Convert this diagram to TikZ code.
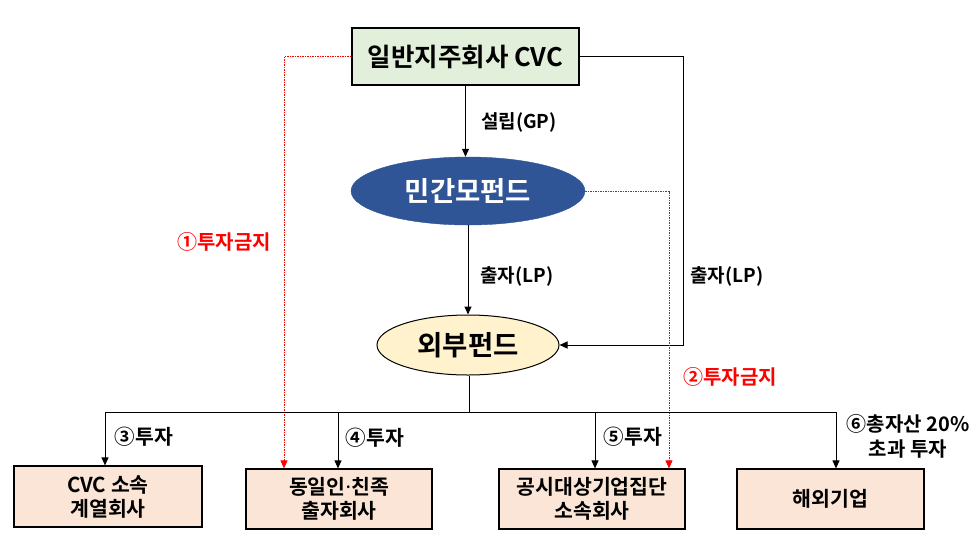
\documentclass[tikz,border=0pt]{standalone}
\usepackage{fontspec}
\setmainfont{Noto Sans CJK KR}[BoldFont={Noto Sans CJK KR Bold}]
\newfontfamily\latinsans{Noto Sans}
\usetikzlibrary{arrows.meta,shapes.geometric}
\definecolor{topgreen}{HTML}{E2EFDA}
\definecolor{fundblue}{HTML}{2F5597}
\definecolor{fundyellow}{HTML}{FFF2CC}
\definecolor{boxpeach}{HTML}{FBE5D6}
\begin{document}
\begin{tikzpicture}[x=1pt,y=-1pt,
  font=\bfseries,
  arr/.style={line width=1pt,-{Triangle[length=8pt,width=7pt]}},
  plain/.style={line width=1pt},
  reddot/.style={red,line width=0.9pt,dash pattern=on 1.5pt off 1pt,-{Triangle[length=8pt,width=7pt]}},
  bottombox/.style={draw,line width=1.2pt,fill=boxpeach,minimum width=186pt,minimum height=60pt,align=center,font=\bfseries\fontsize{20.5}{24}\selectfont,inner sep=0pt},
  lbl/.style={font=\bfseries\fontsize{19}{22}\selectfont,inner sep=0pt,align=center},
  redlbl/.style={font=\bfseries\fontsize{20}{24}\selectfont,text=red,inner sep=0pt},
  invlbl/.style={font=\bfseries\fontsize{20.5}{24}\selectfont,inner sep=0pt,align=center}
]
\useasboundingbox (0,0) rectangle (980,542);
\node[draw,line width=1.2pt,fill=topgreen,minimum width=227pt,minimum height=57pt,inner sep=0pt,font=\bfseries\fontsize{25.5}{30}\selectfont] (top) at (465.5,56.5) {일반지주회사 CVC};
\node[ellipse,fill=fundblue,draw=fundblue,minimum width=234pt,minimum height=68pt,inner sep=0pt,text=white,font=\bfseries\fontsize{27.5}{32}\selectfont] (e1) at (468,191) {민간모펀드};
\node[ellipse,fill=fundyellow,draw=black,line width=1pt,minimum width=182pt,minimum height=60pt,inner sep=0pt,font=\bfseries\fontsize{27.5}{32}\selectfont] (e2) at (468,345) {외부펀드};
\node[bottombox,minimum width=188pt,minimum height=61pt] (b1) at (108,496.5) {CVC 소속\\계열회사};
\node[bottombox] (b2) at (339,499) {동일인{\latinsans\bfseries ·}친족\\출자회사};
\node[bottombox] (b3) at (592,499) {공시대상기업집단\\소속회사};
\node[bottombox,minimum width=187pt] (b4) at (830.5,499) {해외기업};

% labels
\node[lbl] (l1) at (519,122) {설립(GP)};
\node[lbl] (l2) at (517,276) {출자(LP)};
\node[lbl] (l3) at (727,276) {출자(LP)};
\node[redlbl] (r1l) at (224,242) {①투자금지};
\node[redlbl] (r2l) at (730,377) {②투자금지};
\node[invlbl] (t3) at (144,437) {③투자};
\node[invlbl] (t4) at (375,438) {④투자};
\node[invlbl] (t5) at (633,437) {⑤투자};
\node[invlbl,font=\bfseries\fontsize{20}{25}\selectfont] (t6) at (908,436) {⑥총자산 20\%\\초과 투자};

% connectors
\draw[arr] (top.south) -- (top.south |- e1.north);
\draw[arr] (e1.south) -- (e2.north);
\coordinate (rc) at (683,56.5);
\draw[arr] (top.east) -- (rc) |- (e2.east);

\coordinate (rd1) at (284,56.5);
\draw[reddot] (top.west) -- (rd1) -- (rd1 |- b2.north);
\coordinate (rd2) at (669,191);
\draw[reddot] (e1.east) -- (rd2) -- (rd2 |- b3.north);

\coordinate (j) at (469,412);
\coordinate (jl) at (105,412);
\coordinate (jr) at (836,412);
\coordinate (j2) at (338,412);
\coordinate (j3) at (595,412);
\draw[plain] (e2.south -| j) -- (j);
\draw[plain] (jl) -- (jr);
\draw[arr] (jl) -- (jl |- b1.north);
\draw[arr] (j2) -- (j2 |- b2.north);
\draw[arr] (j3) -- (j3 |- b3.north);
\draw[arr] (jr) -- (jr |- b4.north);
\end{tikzpicture}
\end{document}
